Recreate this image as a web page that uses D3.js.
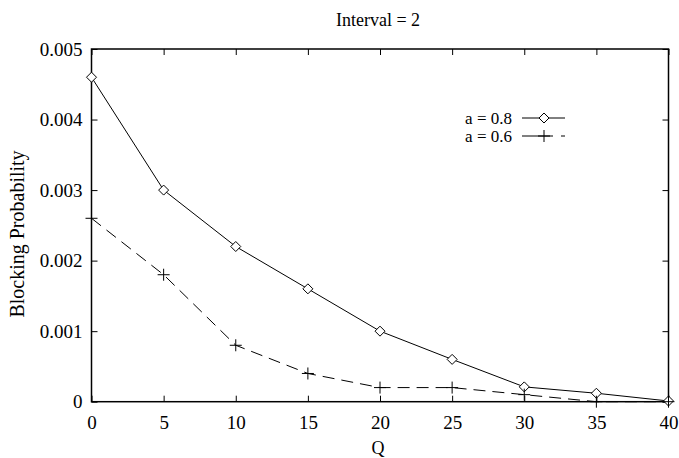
<!DOCTYPE html>
<html>
<head>
<meta charset="utf-8">
<script src="https://cdn.jsdelivr.net/npm/d3@7"></script>
<style>
  body { margin: 0; background: #fff; }
  svg text { font-family: "Liberation Serif", "Times New Roman", serif; fill: #000; }
</style>
</head>
<body>
<div id="chart"></div>
<script>
const width = 679;
const height = 458;

// data
const qValues = [0, 5, 10, 15, 20, 25, 30, 35, 40];
const blockA08 = [0.0046, 0.0030, 0.0022, 0.0016, 0.0010, 0.0006, 0.00021, 0.00012, 0.00001];
const blockA06 = [0.0026, 0.0018, 0.0008, 0.0004, 0.0002, 0.0002, 0.0001, 0.0000, 0.0000];
const xTicks = [0, 5, 10, 15, 20, 25, 30, 35, 40];
const yTicks = [0, 0.001, 0.002, 0.003, 0.004, 0.005];
const yTickLabels = ["0", "0.001", "0.002", "0.003", "0.004", "0.005"];
const seriesNames = ["a = 0.8", "a = 0.6"];

const plotLeft = 91.5, plotRight = 668.5, plotTop = 49, plotBottom = 401.7;

const svg = d3.select("#chart")
    .append("svg")
    .attr("width", width)
    .attr("height", height);

const x = d3.scaleLinear().domain([0, 40]).range([plotLeft, plotRight]);
const y = d3.scaleLinear().domain([0, 0.005]).range([plotBottom, plotTop]);

// frame
svg.append("rect")
    .attr("x", plotLeft).attr("y", plotTop)
    .attr("width", plotRight - plotLeft).attr("height", plotBottom - plotTop)
    .attr("fill", "none").attr("stroke", "#000").attr("stroke-width", 1.5);

const styleAxis = (g) => {
  g.select(".domain").remove();
  g.selectAll(".tick line").attr("stroke", "#000").attr("stroke-width", 1);
}

// bottom axis, ticks point inward
svg.append("g")
    .attr("transform", `translate(0,${plotBottom})`)
    .call(d3.axisBottom(x).tickValues(xTicks).tickSizeInner(-6).tickSizeOuter(0).tickPadding(14))
    .call(styleAxis)
    .call(g => g.selectAll("text").attr("font-size", 19).attr("font-family", "Liberation Serif"));

svg.append("g")
    .attr("transform", `translate(0,${plotTop})`)
    .call(d3.axisTop(x).tickValues(xTicks).tickSizeInner(-6).tickSizeOuter(0).tickFormat(""))
    .call(styleAxis);

svg.append("g")
    .attr("transform", `translate(${plotLeft},0)`)
    .call(d3.axisLeft(y).tickValues(yTicks).tickSizeInner(-6).tickSizeOuter(0).tickPadding(9)
      .tickFormat((d, i) => yTickLabels[i]))
    .call(styleAxis)
    .call(g => g.selectAll("text").attr("font-size", 19).attr("font-family", "Liberation Serif"));

svg.append("g")
    .attr("transform", `translate(${plotRight},0)`)
    .call(d3.axisRight(y).tickValues(yTicks).tickSizeInner(-6).tickSizeOuter(0).tickFormat(""))
    .call(styleAxis);

// titles
svg.append("text")
    .attr("x", 378).attr("y", 26)
    .attr("text-anchor", "middle")
    .attr("font-size", 18)
    .text("Interval = 2");

svg.append("text")
    .attr("x", 378).attr("y", 454)
    .attr("text-anchor", "middle")
    .attr("font-size", 18)
    .text("Q");

svg.append("text")
    .attr("transform", "translate(24,234) rotate(-90)")
    .attr("text-anchor", "middle")
    .attr("font-size", 20)
    .text("Blocking Probability");

// series
const line = d3.line().x((d, i) => x(qValues[i])).y(d => y(d));
const dash = "12,7";

svg.append("path")
    .datum(blockA08)
    .attr("d", line)
    .attr("fill", "none").attr("stroke", "#000").attr("stroke-width", 1);

svg.append("path")
    .datum(blockA06)
    .attr("d", line)
    .attr("fill", "none").attr("stroke", "#000").attr("stroke-width", 1)
    .attr("stroke-dasharray", dash);

const diamond = (g, cx, cy) => {
  g.append("path")
    .attr("d", `M${cx - 5},${cy} L${cx},${cy - 5} L${cx + 5},${cy} L${cx},${cy + 5} Z`)
    .attr("fill", "#fff").attr("stroke", "#000").attr("stroke-width", 1);
}
const plus = (g, cx, cy) => {
  g.append("path")
    .attr("d", `M${cx - 6},${cy} H${cx + 6} M${cx},${cy - 6} V${cy + 6}`)
    .attr("fill", "none").attr("stroke", "#000").attr("stroke-width", 1);
}

const m08 = svg.append("g");
blockA08.forEach((v, i) => diamond(m08, x(qValues[i]), y(v)));
const m06 = svg.append("g");
blockA06.forEach((v, i) => plus(m06, x(qValues[i]), y(v)));

// legend
const legend = svg.append("g");
const legendY = [118, 136];
seriesNames.forEach((name, i) => {
  legend.append("text")
    .attr("x", 512).attr("y", legendY[i])
    .attr("dy", "0.35em")
    .attr("text-anchor", "end")
    .attr("font-size", 17)
    .text(name);
  legend.append("line")
    .attr("x1", 522).attr("x2", 565)
    .attr("y1", legendY[i]).attr("y2", legendY[i])
    .attr("stroke", "#000").attr("stroke-width", 1)
    .attr("stroke-dasharray", i === 1 ? "31,8,4" : null);
  if (i === 0) diamond(legend, 544, legendY[i]);
  else plus(legend, 544, legendY[i]);
});
</script>
</body>
</html>
